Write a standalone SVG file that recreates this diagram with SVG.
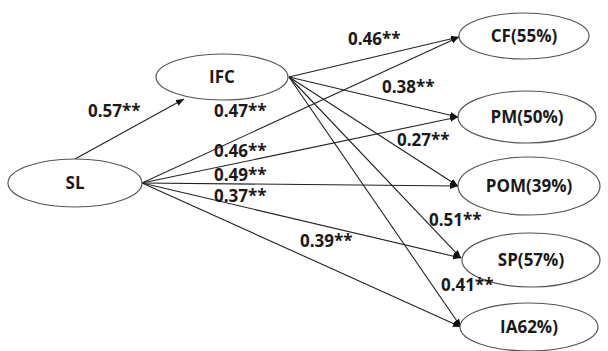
<svg xmlns="http://www.w3.org/2000/svg" width="608" height="351" viewBox="0 0 608 351">
  <style>
    .node ellipse { fill: #ffffff; stroke: #555555; stroke-width: 1.2; }
    .node text { font-family: "Open Sans", "Liberation Sans", sans-serif; font-weight: bold; font-size: 17px; fill: #1a1a1a; text-anchor: middle; }
    .edge { stroke: #222222; stroke-width: 1.1; fill: none; marker-end: url(#arrow); }
    .coef { font-family: "Open Sans", "Liberation Sans", sans-serif; font-weight: bold; font-size: 17px; fill: #1a1a1a; }
  </style>
  <defs>
    <marker id="arrow" viewBox="0 0 10 10" refX="10" refY="5" markerWidth="8" markerHeight="8" markerUnits="userSpaceOnUse" orient="auto">
      <path d="M0,1 L10,5 L0,9 Z" fill="#111111"/>
    </marker>
  </defs>
  <rect width="608" height="351" fill="#ffffff"/>

  <g id="connectors">
    <line class="edge" x1="75" y1="159" x2="184" y2="99"/>
    <line class="edge" x1="289" y1="77" x2="459" y2="37"/>
    <line class="edge" x1="142" y1="183" x2="459" y2="37"/>
    <line class="edge" x1="289" y1="77" x2="458" y2="117"/>
    <line class="edge" x1="142" y1="183" x2="458" y2="117"/>
    <line class="edge" x1="289" y1="77" x2="458" y2="186"/>
    <line class="edge" x1="142" y1="183" x2="458" y2="186"/>
    <line class="edge" x1="289" y1="77" x2="461" y2="258"/>
    <line class="edge" x1="142" y1="183" x2="461" y2="258"/>
    <line class="edge" x1="289" y1="77" x2="461" y2="327"/>
    <line class="edge" x1="142" y1="183" x2="461" y2="327"/>
  </g>

  <g id="node-ifc" class="node">
    <ellipse cx="222" cy="77" rx="66" ry="23"/>
    <text x="222" y="83">IFC</text>
  </g>
  <g id="node-sl" class="node">
    <ellipse cx="75" cy="183" rx="67" ry="24"/>
    <text x="75" y="189">SL</text>
  </g>
  <g id="node-cf" class="node">
    <ellipse cx="524" cy="36" rx="65" ry="23"/>
    <text x="524" y="42">CF(55%)</text>
  </g>
  <g id="node-pm" class="node">
    <ellipse cx="527" cy="117" rx="69" ry="26"/>
    <text x="527" y="123">PM(50%)</text>
  </g>
  <g id="node-pom" class="node">
    <ellipse cx="529" cy="186" rx="71" ry="29"/>
    <text x="529" y="192">POM(39%)</text>
  </g>
  <g id="node-sp" class="node">
    <ellipse cx="531" cy="260" rx="69" ry="27"/>
    <text x="531" y="266">SP(57%)</text>
  </g>
  <g id="node-ia" class="node">
    <ellipse cx="529" cy="327" rx="69" ry="24"/>
    <text x="529" y="333">IA62%)</text>
  </g>

  <!-- path coefficients, drawn last so they sit above lines and outlines -->
  <g id="coefficients">
    <text class="coef" x="88" y="117">0.57**</text>
    <text class="coef" x="214" y="117">0.47**</text>
    <text class="coef" x="214" y="157">0.46**</text>
    <text class="coef" x="214" y="181">0.49**</text>
    <text class="coef" x="214" y="202">0.37**</text>
    <text class="coef" x="348" y="45">0.46**</text>
    <text class="coef" x="382" y="93">0.38**</text>
    <text class="coef" x="397" y="146">0.27**</text>
    <text class="coef" x="429" y="226">0.51**</text>
    <text class="coef" x="300" y="247">0.39**</text>
    <text class="coef" x="441" y="291">0.41**</text>
  </g>
</svg>
